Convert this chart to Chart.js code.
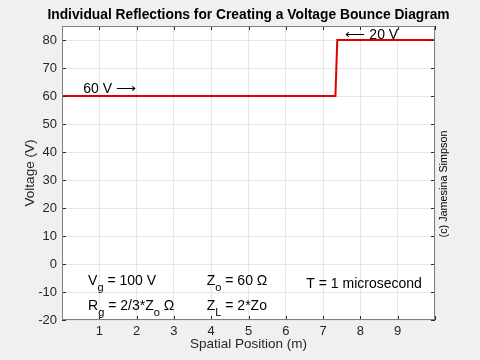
<!DOCTYPE html>
<html>
<head>
<meta charset="utf-8">
<script src="https://cdn.jsdelivr.net/npm/chart.js@4"></script>
<style>
  html, body { margin: 0; padding: 0; background: #f0f0f0; }
  #wrap { width: 480px; height: 360px; }
</style>
</head>
<body>
<div id="wrap"><canvas id="bounceChart" width="480" height="360"></canvas></div>
<script>
// wave front position (m) and voltage (V)
const positions = [0, 7.33, 7.38, 10];
const voltages = [60, 60, 80, 80];
const xTicks = [0, 1, 2, 3, 4, 5, 6, 7, 8, 9, 10];
const yTicks = [-20, -10, 0, 10, 20, 30, 40, 50, 60, 70, 80];

const font = '"Liberation Sans", Arial, Helvetica, sans-serif';
const ctx = document.getElementById('bounceChart').getContext('2d');

// text placed in data coordinates
const notes = [
  { x: 0.57, y: 61.2, text: '60 V \u27F6' },
  { x: 7.6, y: 80.4, text: '\u27F5 20 V' },
];

const boxAndLabels = {
  id: 'boxAndLabels',
  beforeDraw(chart) {
    const c = chart.ctx;
    c.save();
    c.fillStyle = '#f0f0f0';
    c.fillRect(0, 0, chart.width, chart.height);
    const a = chart.chartArea;
    c.fillStyle = '#ffffff';
    c.fillRect(a.left, a.top, a.right - a.left, a.bottom - a.top);
    c.restore();
  },
  afterDraw(chart) {
    const c = chart.ctx;
    const a = chart.chartArea;
    const xs = chart.scales.x, ys = chart.scales.y;
    c.save();
    c.strokeStyle = '#262626';
    c.lineWidth = 1;
    c.beginPath();
    xTicks.forEach(v => {
      const px = Math.round(xs.getPixelForValue(v)) + 0.5;
      c.moveTo(px, a.bottom); c.lineTo(px, a.bottom - 4);
      c.moveTo(px, a.top); c.lineTo(px, a.top + 4);
    });
    yTicks.forEach(v => {
      const py = Math.round(ys.getPixelForValue(v)) + 0.5;
      c.moveTo(a.left, py); c.lineTo(a.left + 4, py);
      c.moveTo(a.right, py); c.lineTo(a.right - 4, py);
    });
    c.stroke();
    c.strokeStyle = '#808080';
    c.strokeRect(Math.round(a.left) + 0.5, Math.round(a.top) + 0.5,
      Math.round(a.right - a.left) - 1, Math.round(a.bottom - a.top) - 1);

    // title centred over the plot box
    c.fillStyle = '#000';
    c.textAlign = 'center';
    c.textBaseline = 'middle';
    c.font = 'bold 13.8px ' + font;
    c.fillText('Individual Reflections for Creating a Voltage Bounce Diagram', (a.left + a.right) / 2, 15);

    c.textAlign = 'left';
    c.font = '14px ' + font;
    c.textBaseline = 'alphabetic';
    notes.forEach(n => {
      c.fillText(n.text, xs.getPixelForValue(n.x), ys.getPixelForValue(n.y));
    });

    // parameter block with subscripts
    const sub = (parts, x, y) => {
      let px = x;
      parts.forEach(p => {
        if (p.s) {
          c.font = '11px ' + font;
          c.fillText(p.s, px, y + 6);
          px += c.measureText(p.s).width;
        } else {
          c.font = '14px ' + font;
          c.fillText(p.t, px, y);
          px += c.measureText(p.t).width;
        }
      });
    };
    const line1 = ys.getPixelForValue(-7.5);
    const line2 = ys.getPixelForValue(-16.3);
    sub([{ t: 'V' }, { s: 'g' }, { t: ' = 100 V' }], xs.getPixelForValue(0.7), line1);
    sub([{ t: 'Z' }, { s: 'o' }, { t: ' = 60 \u03A9' }], xs.getPixelForValue(3.88), line1);
    sub([{ t: 'T = 1 microsecond' }], xs.getPixelForValue(6.55), ys.getPixelForValue(-8.6));
    sub([{ t: 'R' }, { s: 'g' }, { t: ' = 2/3*Z' }, { s: 'o' }, { t: ' \u03A9' }], xs.getPixelForValue(0.7), line2);
    sub([{ t: 'Z' }, { s: 'L' }, { t: ' = 2*Zo' }], xs.getPixelForValue(3.88), line2);

    // axis titles and credit
    c.fillStyle = '#262626';
    c.font = '13.5px ' + font;
    c.textAlign = 'center';
    c.textBaseline = 'middle';
    c.fillText('Spatial Position (m)', (a.left + a.right) / 2, 344);
    c.save();
    c.translate(30, (a.top + a.bottom) / 2);
    c.rotate(-Math.PI / 2);
    c.fillText('Voltage (V)', 0, 0);
    c.restore();
    c.save();
    c.fillStyle = '#000';
    c.font = '10.8px ' + font;
    c.translate(444, 184);
    c.rotate(-Math.PI / 2);
    c.fillText('(c) Jamesina Simpson', 0, 0);
    c.restore();
    c.restore();
  }
};

new Chart(ctx, {
  type: 'line',
  data: {
    datasets: [{
      data: positions.map((x, i) => ({ x: x, y: voltages[i] })),
      borderColor: '#e00000',
      borderWidth: 2,
      pointRadius: 0,
      tension: 0,
      fill: false,
    }],
  },
  options: {
    responsive: false,
    animation: false,
    layout: { padding: { left: 0, right: 45, top: 26, bottom: 0 } },
    plugins: {
      legend: { display: false },
      tooltip: { enabled: false },
      title: { display: false },
    },
    scales: {
      x: {
        type: 'linear',
        min: 0,
        max: 10,
        afterFit(s) { s.height = 40; },
        afterBuildTicks(s) { s.ticks = xTicks.map(v => ({ value: v })); },
        ticks: {
          color: '#262626',
          font: { family: font, size: 13 },
          padding: 4,
          maxRotation: 0,
          callback: v => (v === 0 || v === 10 ? '' : v),
        },
        grid: { color: '#e6e6e6', drawTicks: false },
        border: { display: false },
      },
      y: {
        min: -20,
        max: 85,
        afterFit(s) { s.width = 62; },
        afterBuildTicks(s) { s.ticks = yTicks.map(v => ({ value: v })); },
        ticks: {
          color: '#262626',
          font: { family: font, size: 13 },
          padding: 5,
        },
        grid: { color: '#e6e6e6', drawTicks: false },
        border: { display: false },
      },
    },
  },
  plugins: [boxAndLabels],
});
</script>
</body>
</html>
